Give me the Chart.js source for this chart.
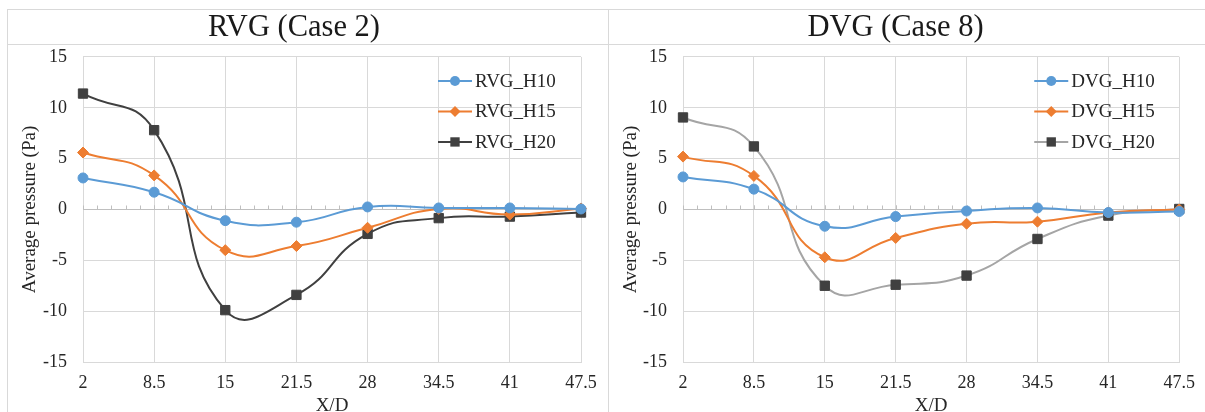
<!DOCTYPE html>
<html>
<head>
<meta charset="utf-8">
<script src="https://cdn.jsdelivr.net/npm/chart.js@4/dist/chart.umd.min.js"></script>
<style>
  html, body { margin: 0; padding: 0; background: #fff; overflow: hidden; width: 1205px; height: 412px; }
  .rule { position: absolute; background: #D9D9D9; }
  canvas { position: absolute; }
</style>
</head>
<body>
<div class="rule" style="left:7px;top:9px;width:1198px;height:1px"></div>
<div class="rule" style="left:7px;top:44px;width:1198px;height:1px"></div>
<div class="rule" style="left:7px;top:9px;width:1px;height:403px"></div>
<div class="rule" style="left:608px;top:9px;width:1px;height:403px"></div>
<canvas id="rvgChart" width="601" height="420" style="left:7px;top:9px"></canvas>
<canvas id="dvgChart" width="597" height="420" style="left:608px;top:9px"></canvas>
<script>
// Data
const categories = ['2', '8.5', '15', '21.5', '28', '34.5', '41', '47.5'];

const rvgH10 = [3.1, 1.7, -1.1, -1.25, 0.25, 0.15, 0.15, 0.05];
const rvgH15 = [5.6, 3.35, -4.0, -3.6, -1.8, 0.05, -0.5, 0.1];
const rvgH20 = [11.4, 7.8, -9.9, -8.4, -2.4, -0.85, -0.7, -0.3];

const dvgH10 = [3.2, 2.0, -1.65, -0.7, -0.15, 0.15, -0.3, -0.2];
const dvgH15 = [5.2, 3.3, -4.7, -2.8, -1.4, -1.2, -0.3, 0.0];
const dvgH20 = [9.05, 6.2, -7.5, -7.4, -6.5, -2.9, -0.6, 0.05];

const yMin = -15, yMax = 15, yStep = 5;

const BLUE = '#5B9BD5';
const ORANGE = '#ED7D31';
const DARK = '#404040';
const GRAY = '#A5A5A5';
const GRID = '#D9D9D9';
const TEXT = '#262626';
const SERIF = '"Liberation Serif", "Times New Roman", serif';

function series(label, data, lineColor, markerColor, style, radius) {
  return {
    label: label,
    data: data,
    borderColor: lineColor,
    backgroundColor: markerColor,
    pointBackgroundColor: markerColor,
    pointBorderColor: markerColor,
    pointStyle: style,
    pointRadius: radius,
    pointBorderWidth: 1,
    borderWidth: 2,
    tension: 0.5,
    fill: false
  };
}

// marker drawing for the legend
function drawMarker(ctx, style, x, y, r) {
  ctx.beginPath();
  if (style === 'circle') {
    ctx.arc(x, y, r, 0, Math.PI * 2);
  } else if (style === 'rectRot') {
    ctx.moveTo(x, y - r); ctx.lineTo(x + r, y); ctx.lineTo(x, y + r); ctx.lineTo(x - r, y);
    ctx.closePath();
  } else {
    const s = r * Math.SQRT1_2;
    ctx.rect(x - s, y - s, 2 * s, 2 * s);
  }
  ctx.fill();
}

// Excel-like legend: short line with the marker in the middle
const lineLegend = {
  id: 'lineLegend',
  afterDraw(chart, args, opts) {
    const ctx = chart.ctx;
    const area = chart.chartArea;
    const x0 = area.right - opts.offsetX;
    chart.data.datasets.forEach((ds, i) => {
      const y = area.top + 24 + i * 30.5;
      ctx.save();
      ctx.strokeStyle = ds.borderColor;
      ctx.lineWidth = 2;
      ctx.beginPath();
      ctx.moveTo(x0, y);
      ctx.lineTo(x0 + 34, y);
      ctx.stroke();
      ctx.fillStyle = ds.pointBackgroundColor;
      drawMarker(ctx, ds.pointStyle, x0 + 17, y, ds.pointRadius);
      ctx.fillStyle = TEXT;
      ctx.font = '19px ' + SERIF;
      ctx.textAlign = 'left';
      ctx.textBaseline = 'middle';
      ctx.fillText(ds.label, x0 + 37, y + 1);
      ctx.restore();
    });
  }
};

// horizontal axis line at zero with small tick marks
const zeroAxis = {
  id: 'zeroAxis',
  beforeDatasetsDraw(chart) {
    const ctx = chart.ctx;
    const xs = chart.scales.x, ys = chart.scales.y;
    const y0 = Math.round(ys.getPixelForValue(0)) + 0.5;
    ctx.save();
    ctx.strokeStyle = '#BFBFBF';
    ctx.lineWidth = 1;
    ctx.beginPath();
    ctx.moveTo(xs.left, y0);
    ctx.lineTo(xs.right, y0);
    for (let i = 0; i < categories.length - 1; i++) {
      const a = xs.getPixelForValue(i), b = xs.getPixelForValue(i + 1);
      for (let k = 0; k <= 5; k++) {
        const px = Math.round(a + (b - a) * k / 5) + 0.5;
        ctx.moveTo(px, y0 - 4);
        ctx.lineTo(px, y0);
      }
    }
    ctx.stroke();
    ctx.restore();
  }
};

function makeChart(canvasId, title, datasets, yAxisWidth, rightPad, legendOffset) {
  return new Chart(document.getElementById(canvasId), {
    type: 'line',
    data: { labels: categories, datasets: datasets },
    options: {
      responsive: false,
      animation: false,
      devicePixelRatio: 1,
      layout: { padding: { left: 0, right: rightPad, top: 0, bottom: 0 } },
      plugins: {
        legend: { display: false },
        tooltip: { enabled: false },
        title: {
          display: true,
          text: title,
          color: '#1a1a1a',
          font: { family: SERIF, size: 30.5, weight: 'normal', lineHeight: 1.1 },
          padding: { top: 2, bottom: 12.4 }
        },
        lineLegend: { offsetX: legendOffset }
      },
      scales: {
        x: {
          type: 'category',
          offset: false,
          grid: { color: GRID, drawTicks: false },
          border: { color: GRID },
          ticks: { color: TEXT, font: { family: SERIF, size: 18 }, padding: 10, maxRotation: 0, autoSkip: false },
          title: {
            display: true, text: 'X/D', color: TEXT,
            font: { family: SERIF, size: 19 },
            padding: { top: 0, bottom: 11.6 }
          },
          afterFit: (s) => { s.height = 67; }
        },
        y: {
          min: yMin, max: yMax,
          grid: { color: GRID, drawTicks: false },
          border: { color: GRID },
          ticks: {
            stepSize: yStep, color: TEXT, padding: 16,
            font: { family: SERIF, size: 18 },
            callback: (v) => String(v)
          },
          title: {
            display: true, text: 'Average pressure (Pa)', color: TEXT,
            font: { family: SERIF, size: 19 },
            padding: { top: 11.6, bottom: 0 }
          },
          afterFit: (s) => { s.width = yAxisWidth; }
        }
      }
    },
    plugins: [zeroAxis, lineLegend]
  });
}

makeChart('rvgChart', 'RVG (Case 2)', [
  series('RVG_H10', rvgH10, BLUE, BLUE, 'circle', 5),
  series('RVG_H15', rvgH15, ORANGE, ORANGE, 'rectRot', 5.5),
  series('RVG_H20', rvgH20, DARK, DARK, 'rect', 6.6)
], 76, 27, 143);

makeChart('dvgChart', 'DVG (Case 8)', [
  series('DVG_H10', dvgH10, BLUE, BLUE, 'circle', 5),
  series('DVG_H15', dvgH15, ORANGE, ORANGE, 'rectRot', 5.5),
  series('DVG_H20', dvgH20, GRAY, DARK, 'rect', 6.6)
], 75, 22, 145);
</script>
</body>
</html>
